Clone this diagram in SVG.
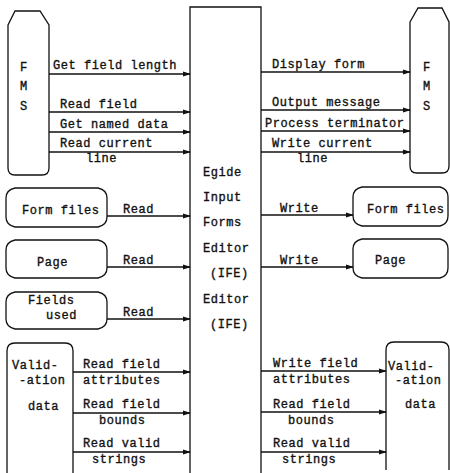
<svg xmlns="http://www.w3.org/2000/svg" width="450" height="473" viewBox="0 0 450 473">
<defs>
<marker id="ah" markerWidth="8" markerHeight="6" refX="7" refY="3" orient="auto" markerUnits="userSpaceOnUse">
<path d="M0,0.5 L8,3 L0,5.5 Z" fill="#111"/>
</marker>
<style>
.b{fill:#fff;stroke:#111;stroke-width:1.3}
.c{fill:none;stroke:#111;stroke-width:1.3;marker-end:url(#ah)}
text{font-family:"Liberation Mono","Courier New",monospace;font-size:12px;letter-spacing:0.55px;fill:#111;stroke:#111;stroke-width:0.35}
</style>
</defs>
<rect width="450" height="473" fill="#fff"/>

<g id="ife">
<path class="b" d="M190,473 L190,7 L261,7 L261,473"/>
<text x="203" y="176">Egide</text>
<text x="203" y="201">Input</text>
<text x="203" y="226">Forms</text>
<text x="203" y="252">Editor</text>
<text x="210" y="277">(IFE)</text>
<text x="203" y="303">Editor</text>
<text x="210" y="328">(IFE)</text>
</g>

<g id="fms-left">
<path class="b" d="M8,25 L15,11 L40,11 L49,25 L49,168 Q49,175 42,175 L15,175 Q8,175 8,168 Z"/>
<text x="20" y="71">F</text>
<text x="20" y="90">M</text>
<text x="20" y="110">S</text>
</g>

<g id="fms-right">
<path class="b" d="M410,22 L418,8 L442,8 L449,22 L449,166 Q449,173 442,173 L417,173 Q410,173 410,166 Z"/>
<text x="423" y="71">F</text>
<text x="423" y="90">M</text>
<text x="423" y="110">S</text>
</g>

<g id="formfiles-left">
<path class="b" d="M15,188 L98,188 Q107,190 107,198 L107,217 Q107,225 98,227 L15,227 Q6,225 6,217 L6,198 Q6,190 15,188 Z"/>
<text x="22" y="214">Form files</text>
</g>

<g id="page-left">
<path class="b" d="M15,240 L98,240 Q107,242 107,250 L107,268 Q107,276 98,278 L15,278 Q6,276 6,268 L6,250 Q6,242 15,240 Z"/>
<text x="37" y="266">Page</text>
</g>

<g id="fieldsused-left">
<path class="b" d="M15,292 L98,292 Q107,294 107,302 L107,319 Q107,327 98,329 L15,329 Q6,327 6,319 L6,302 Q6,294 15,292 Z"/>
<text x="28" y="304">Fields</text>
<text x="46" y="319">used</text>
</g>

<g id="validation-left">
<path class="b" d="M7,473 L7,351 Q7,343 15,343 L65,343 Q73,343 73,351 L73,473"/>
<text x="12" y="369">Valid-</text>
<text x="19" y="384">-ation</text>
<text x="28" y="410">data</text>
</g>

<g id="formfiles-right">
<path class="b" d="M362,187 L440,187 Q448,189 448,197 L448,216 Q448,224 440,226 L362,226 Q353,224 353,216 L353,197 Q353,189 362,187 Z"/>
<text x="367" y="213">Form files</text>
</g>

<g id="page-right">
<path class="b" d="M362,239 L440,239 Q448,241 448,249 L448,268 Q448,276 440,278 L362,278 Q353,276 353,268 L353,249 Q353,241 362,239 Z"/>
<text x="375" y="264">Page</text>
</g>

<g id="validation-right">
<path class="b" d="M386,470 L386,350 Q386,342 394,342 L441,342 Q449,342 449,350 L449,470"/>
<text x="388" y="370">Valid-</text>
<text x="395" y="384">-ation</text>
<text x="405" y="408">data</text>
</g>

<g id="connectors">
<line class="c" x1="49" y1="74" x2="190" y2="74"/>
<line class="c" x1="49" y1="112" x2="190" y2="112"/>
<line class="c" x1="49" y1="132" x2="190" y2="132"/>
<line class="c" x1="49" y1="152" x2="190" y2="152"/>
<line class="c" x1="107" y1="216" x2="190" y2="216"/>
<line class="c" x1="107" y1="267" x2="190" y2="267"/>
<line class="c" x1="107" y1="319" x2="190" y2="319"/>
<line class="c" x1="73" y1="372" x2="190" y2="372"/>
<line class="c" x1="73" y1="413" x2="190" y2="413"/>
<line class="c" x1="73" y1="452" x2="190" y2="452"/>
<line class="c" x1="261" y1="72" x2="410" y2="72"/>
<line class="c" x1="261" y1="110" x2="410" y2="110"/>
<line class="c" x1="261" y1="131" x2="410" y2="131"/>
<line class="c" x1="261" y1="152" x2="410" y2="152"/>
<line class="c" x1="261" y1="215" x2="353" y2="215"/>
<line class="c" x1="261" y1="267" x2="353" y2="267"/>
<line class="c" x1="261" y1="371" x2="386" y2="371"/>
<line class="c" x1="261" y1="412" x2="386" y2="412"/>
<line class="c" x1="261" y1="452" x2="386" y2="452"/>
<text x="53" y="69">Get field length</text>
<text x="60" y="108">Read field</text>
<text x="60" y="128">Get named data</text>
<text x="60" y="147">Read current</text>
<text x="86" y="162">line</text>
<text x="123" y="213">Read</text>
<text x="123" y="264">Read</text>
<text x="123" y="316">Read</text>
<text x="83" y="368">Read field</text>
<text x="83" y="384">attributes</text>
<text x="83" y="408">Read field</text>
<text x="99" y="424">bounds</text>
<text x="83" y="447">Read valid</text>
<text x="92" y="463">strings</text>
<text x="272" y="68">Display form</text>
<text x="272" y="106">Output message</text>
<text x="265" y="127">Process terminator</text>
<text x="272" y="147">Write current</text>
<text x="297" y="162">line</text>
<text x="280" y="212">Write</text>
<text x="280" y="264">Write</text>
<text x="273" y="367">Write field</text>
<text x="273" y="383">attributes</text>
<text x="273" y="408">Read field</text>
<text x="288" y="424">bounds</text>
<text x="273" y="447">Read valid</text>
<text x="282" y="463">strings</text>
</g>
</svg>
